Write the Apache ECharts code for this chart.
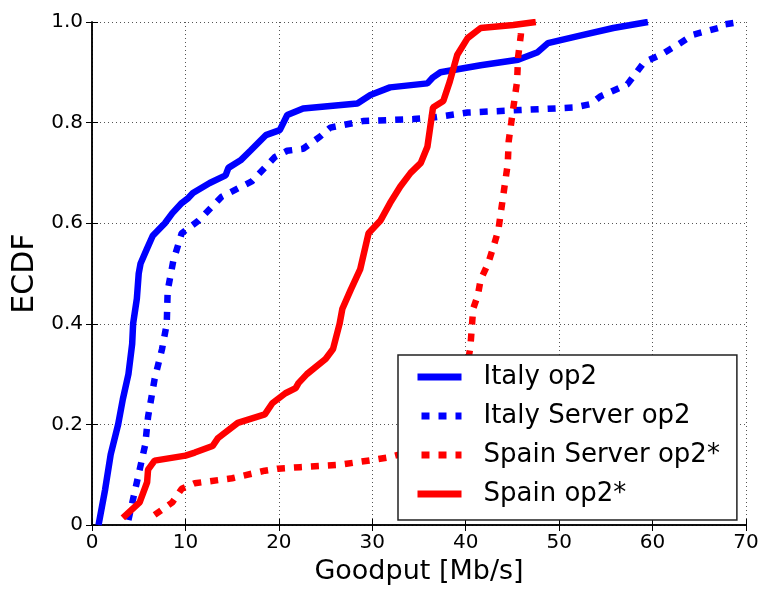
<!DOCTYPE html>
<html>
<head>
<meta charset="utf-8" />
<title>ECDF Goodput</title>
<script src="https://cdn.jsdelivr.net/npm/echarts@6/dist/echarts.min.js"></script>
<style>
  html, body { margin: 0; padding: 0; background: #fff; }
  #main { width: 762px; height: 590px; }
</style>
</head>
<body>
<div id="main"></div>
<script>
// dati: [goodput Mb/s, ECDF]
var italyOp2 = [[0.7,0],[1.4,0.07],[2.0,0.14],[2.8,0.2],[3.3,0.25],[3.9,0.3],[4.3,0.36],[4.4,0.4],[4.8,0.45],[5.0,0.5],[5.2,0.52],[5.9,0.55],[6.5,0.575],[7.8,0.6],[8.6,0.62],[9.6,0.64],[10.3,0.65],[10.8,0.66],[12.6,0.68],[14.3,0.695],[14.6,0.71],[15.9,0.725],[17.0,0.745],[17.8,0.76],[18.6,0.775],[20.1,0.785],[20.9,0.815],[22.6,0.828],[28.4,0.838],[29.8,0.855],[31.9,0.87],[35.9,0.878],[36.5,0.89],[37.3,0.9],[41.6,0.914],[45.6,0.925],[47.7,0.94],[48.8,0.958],[52,0.972],[55.8,0.988],[59.5,1.0]];
var italyServerOp2 = [[3.9,0.01],[4.8,0.085],[5.7,0.16],[6.0,0.215],[6.7,0.29],[7.5,0.35],[8.0,0.40],[8.1,0.466],[8.7,0.525],[9.6,0.58],[11.4,0.605],[13.9,0.653],[17.1,0.683],[19.6,0.732],[20.9,0.744],[22.6,0.748],[24.4,0.772],[25.5,0.79],[29.0,0.803],[34.4,0.807],[36.5,0.81],[40.2,0.82],[45.9,0.825],[51.6,0.83],[53.4,0.837],[54.4,0.852],[57.3,0.876],[59.1,0.92],[60.9,0.935],[62.7,0.955],[64.4,0.975],[67,0.988],[67.3,0.994],[68.7,0.998],[69.5,1.0]];
var spainServerOp2 = [[6.7,0.02],[8.6,0.045],[9.6,0.072],[11,0.083],[15,0.093],[18.5,0.108],[19.9,0.112],[22.3,0.115],[26.6,0.12],[30.3,0.13],[31.6,0.134],[35,0.15],[38,0.18],[39.5,0.25],[40.2,0.32],[40.5,0.354],[40.8,0.43],[41.3,0.457],[41.6,0.488],[42.4,0.52],[43,0.555],[43.5,0.587],[44,0.653],[44.5,0.718],[44.6,0.763],[45,0.817],[45.5,0.882],[45.6,0.929],[45.9,0.974],[46,1.0]];
var spainOp2 = [[3.3,0.014],[5.1,0.045],[5.9,0.085],[6.0,0.11],[6.7,0.128],[10,0.138],[11,0.144],[12.9,0.157],[13.5,0.173],[15.6,0.203],[18.5,0.22],[19.3,0.242],[20.7,0.262],[21.8,0.272],[22.1,0.282],[23,0.3],[25,0.33],[25.8,0.35],[26.5,0.4],[26.8,0.43],[27.7,0.468],[28.7,0.508],[29.6,0.58],[30.9,0.606],[31.9,0.64],[33.0,0.673],[34.1,0.70],[35.2,0.72],[35.9,0.752],[36.5,0.83],[37.6,0.843],[38.3,0.882],[39.1,0.935],[40.2,0.968],[41.6,0.988],[45.1,0.994],[47.5,1.0]];

var seriesNames = ['Italy op2', 'Italy Server op2', 'Spain Server op2*', 'Spain op2*'];
var xTicks = [0, 10, 20, 30, 40, 50, 60, 70];
var yTicks = [0, 0.2, 0.4, 0.6, 0.8, 1.0];

var font = 'DejaVu Sans';
var myChart = echarts.init(document.getElementById('main'), null, { renderer: 'canvas' });

function linea(name, data, color, dotted) {
  return {
    name: name,
    type: 'line',
    data: data,
    showSymbol: false,
    symbol: 'none',
    animation: false,
    lineStyle: {
      color: color,
      width: 6.5,
      type: dotted ? [8, 9] : 'solid',
      cap: 'butt'
    },
    itemStyle: { color: color }
  };
}

var frameAxis = {
  axisLine: { show: true, lineStyle: { color: '#000', width: 1.5 } },
  axisTick: { show: true, inside: true, length: 6, lineStyle: { color: '#000', width: 1 } },
  axisLabel: { show: false },
  splitLine: { show: false }
};

myChart.setOption({
  backgroundColor: '#fff',
  textStyle: { fontFamily: font },
  grid: { left: 92, right: 16, top: 22, bottom: 60, containLabel: false },
  legend: {
    data: seriesNames,
    orient: 'vertical',
    left: 398,
    top: 355,
    padding: [8, 17, 12, 16],
    itemGap: 11,
    itemWidth: 44,
    itemHeight: 14,
    backgroundColor: '#fff',
    borderColor: '#222',
    borderWidth: 1.5,
    borderRadius: 0,
    lineStyle: { width: 7, dashOffset: 13, cap: 'butt' },
    itemStyle: { opacity: 0 },
    textStyle: { fontFamily: font, fontSize: 26, color: '#000', lineHeight: 28, padding: [0, 0, 0, 17] },
    z: 10
  },
  xAxis: [{
    type: 'value',
    min: xTicks[0],
    max: xTicks[xTicks.length - 1],
    interval: 10,
    name: 'Goodput [Mb/s]',
    nameLocation: 'middle',
    nameGap: 33,
    nameTextStyle: { fontFamily: font, fontSize: 27, color: '#000' },
    axisLine: { show: true, onZero: false, lineStyle: { color: '#000', width: 1.5 } },
    axisTick: { show: true, inside: true, length: 6, lineStyle: { color: '#000', width: 1 } },
    axisLabel: { fontFamily: font, fontSize: 20, color: '#000', margin: 8 },
    splitLine: { show: true, lineStyle: { color: '#555', width: 1, type: [1, 3] } }
  }, echarts.util.merge({
    type: 'value', position: 'top', min: 0, max: 70, interval: 10
  }, frameAxis)],
  yAxis: [{
    type: 'value',
    min: yTicks[0],
    max: yTicks[yTicks.length - 1],
    interval: 0.2,
    name: 'ECDF',
    nameLocation: 'middle',
    nameGap: 50,
    nameTextStyle: { fontFamily: font, fontSize: 30, color: '#000' },
    axisLine: { show: true, onZero: false, lineStyle: { color: '#000', width: 1.5 } },
    axisTick: { show: true, inside: true, length: 6, lineStyle: { color: '#000', width: 1 } },
    axisLabel: {
      fontFamily: font, fontSize: 20, color: '#000', margin: 9,
      formatter: function (v) { return v === 0 ? '0' : v.toFixed(1); }
    },
    splitLine: { show: true, lineStyle: { color: '#555', width: 1, type: [1, 3] } }
  }, echarts.util.merge({
    type: 'value', position: 'right', min: 0, max: 1, interval: 0.2
  }, frameAxis)],
  series: [
    linea(seriesNames[0], italyOp2, '#0000ff', false),
    linea(seriesNames[1], italyServerOp2, '#0000ff', true),
    linea(seriesNames[2], spainServerOp2, '#ff0000', true),
    linea(seriesNames[3], spainOp2, '#ff0000', false)
  ]
});

window.onresize = function () {
  myChart.resize();
};
</script>
</body>
</html>
